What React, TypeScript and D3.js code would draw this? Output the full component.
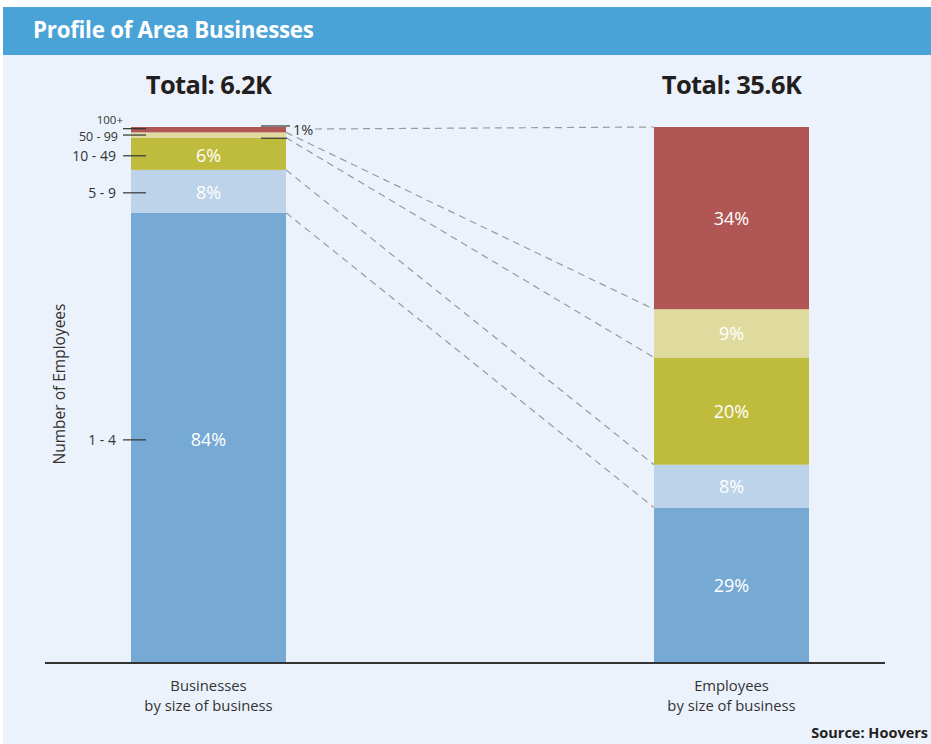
import React from "react";
import * as d3 from "d3";

const sizeCategories = ["1 - 4", "5 - 9", "10 - 49", "50 - 99", "100+"];
const businessesPct = [84, 8, 6, 1, 1];
const employeesPct = [29, 8, 20, 9, 34];
const barNames = ["Businesses\nby size of business", "Employees\nby size of business"];
const totalLabels = ["Total: 6.2K", "Total: 35.6K"];
const colors = ["#76a9d3", "#bcd3e9", "#bfbb3c", "#dfdb9f", "#b05756"];

const W = 931;
const H = 744;
const FONT = "'Open Sans', 'Noto Sans', sans-serif";

export default function App() {
  const y = d3.scaleLinear().domain([0, 100]).range([663, 127]);
  const barX = [131, 654];
  const barW = 155;

  const stack = (vals: number[]) => {
    const out: { y0: number; y1: number; v: number }[] = [];
    let acc = 0;
    vals.forEach((v) => {
      out.push({ y0: acc, y1: acc + v, v });
      acc += v;
    });
    return out;
  };
  const leftStack = stack(businessesPct);
  const rightStack = stack(employeesPct);
  const series = [leftStack, rightStack];

  const tickNudge = [2, 1.5, 2, 0, -1];
  const labelNudge = [0, 0, 0, 1.5, -8.5];
  const labelSize = [14, 14, 14, 12.5, 11.5];
  const labelX = [116, 116, 116, 118, 123];

  return (
    <div style={{ position: "absolute", left: 0, top: 0 }}>
      <svg width={W} height={H} style={{ display: "block", background: "#ffffff" }}>
        <rect x={3} y={7} width={W - 3} height={H - 7} fill="#ecf2fb" />
        <rect x={3} y={7} width={W - 3} height={48} fill="#4aa3d6" />
        <text x={33} y={37.5} fill="#ffffff" fontFamily={FONT} fontWeight={700} fontSize={22.3} letterSpacing={-0.25}>
          Profile of Area Businesses
        </text>

        {totalLabels.map((t, i) => (
          <text key={t} x={barX[i] + barW / 2} y={94} textAnchor="middle" fill="#231f20" fontFamily={FONT} fontWeight={700} fontSize={25.5} letterSpacing={-0.6}>
            {t}
          </text>
        ))}

        {leftStack.map((s, i) => (
          <line
            key={"c" + i}
            x1={i === 4 ? 315 : barX[0] + barW}
            y1={i === 4 ? y(100) + 2 : y(s.y1)}
            x2={barX[1]}
            y2={y(rightStack[i].y1)}
            stroke="#9a9a9a"
            strokeWidth={1.2}
            strokeDasharray="7,5"
          />
        ))}

        {series.map((st, bi) =>
          st.map((s, i) => (
            <rect key={`b${bi}-${i}`} x={barX[bi]} y={y(s.y1)} width={barW} height={y(s.y0) - y(s.y1)} fill={colors[i]} />
          ))
        )}

        {series.map((st, bi) =>
          st.map((s, i) =>
            s.v >= 5 ? (
              <text
                key={`l${bi}-${i}`}
                x={barX[bi] + barW / 2}
                y={(y(s.y0) + y(s.y1)) / 2 + (bi === 0 ? 1.5 : 0.5)}
                dy="0.35em"
                textAnchor="middle"
                fill="#ffffff"
                fontFamily={FONT}
                fontSize={18}
              >
                {s.v}%
              </text>
            ) : null
          )
        )}

        <line x1={261} x2={290} y1={y(100) - 1} y2={y(100) - 1} stroke="#333" strokeWidth={1.2} />
        <line x1={261} x2={287} y1={y(98) + 0.5} y2={y(98) + 0.5} stroke="#333" strokeWidth={1.2} />
        <text x={293} y={130} dy="0.35em" fill="#333" fontFamily={FONT} fontSize={14.5}>
          1%
        </text>

        {leftStack.map((s, i) => {
          const ym = (y(s.y0) + y(s.y1)) / 2 + tickNudge[i];
          return (
            <g key={"t" + i}>
              <line x1={123} x2={146} y1={ym} y2={ym} stroke="#333" strokeWidth={1.2} />
              <text x={labelX[i]} y={ym + labelNudge[i]} dy="0.35em" textAnchor="end" fill="#333" fontFamily={FONT} fontSize={labelSize[i]}>
                {sizeCategories[i]}
              </text>
            </g>
          );
        })}

        <text transform="translate(65,384) rotate(-90)" textAnchor="middle" fill="#333" fontFamily={FONT} fontSize={15.5}>
          Number of Employees
        </text>

        <line x1={45} x2={885} y1={663} y2={663} stroke="#333" strokeWidth={2} />

        {barNames.map((n) =>
          n.split("\n").map((line, j) => (
            <text
              key={n + j}
              x={barX[barNames.indexOf(n)] + barW / 2}
              y={691 + j * 20}
              textAnchor="middle"
              fill="#333"
              fontFamily={FONT}
              fontSize={14.8}
            >
              {line}
            </text>
          ))
        )}

        <text x={928} y={738} textAnchor="end" fill="#231f20" fontFamily={FONT} fontWeight={700} fontSize={14.5}>
          Source: Hoovers
        </text>
      </svg>
    </div>
  );
}
